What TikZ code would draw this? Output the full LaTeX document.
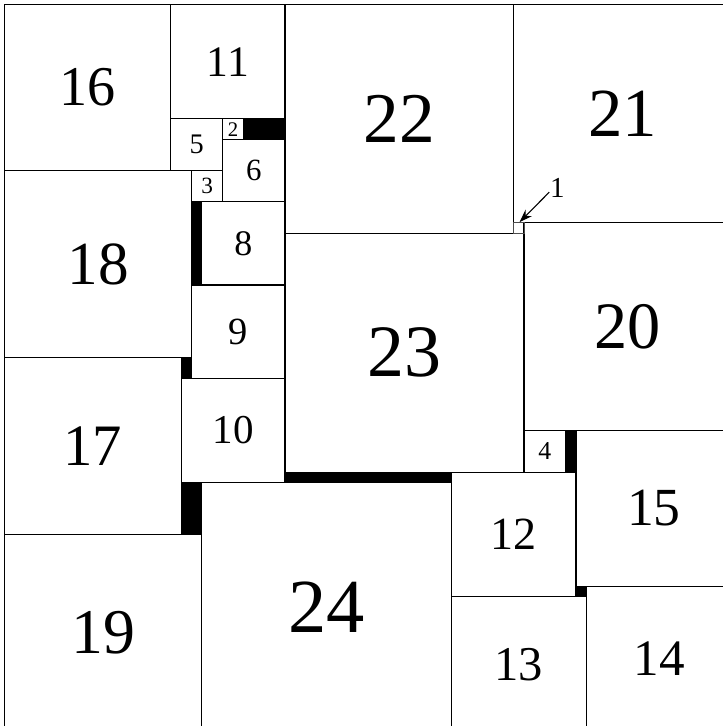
\documentclass[tikz,border=0pt]{standalone}
\usepackage{fontspec}
\setmainfont{Liberation Serif}
\usetikzlibrary{arrows.meta}
\begin{document}
\begin{tikzpicture}[x=10.39pt,y=10.39pt,
  sqline/.style={draw=black,line width=1.1pt},
  thinsq/.style={draw=black!70,line width=0.6pt},
  gapfill/.style={fill=black},
  lbl/.style={inner sep=0pt},
  pointer/.style={-{Stealth[length=13pt,width=9pt]},line width=1.1pt}]
\useasboundingbox (-0.433,0.56) rectangle (69.15,70.433);
\newcommand\gapbox[4]{\fill[gapfill] (#1,70-#2) rectangle ++(#3,-#4);}
\newcommand\sqbox[3]{%
  \draw[sqline] (#1,70-#2) rectangle ++(#3,-#3);
  \pgfmathsetmacro\sqfsz{15.7+2.53*#3}%
  \node[lbl,font=\fontsize{\sqfsz pt}{\sqfsz pt}\selectfont] (s#3) at (#1+#3/2,70-#2-#3/2) {#3};}
% gaps
\gapbox{23}{11}{4}{2}
\gapbox{18}{19}{1}{8}
\gapbox{17}{34}{1}{2}
\gapbox{17}{46}{2}{5}
\gapbox{27}{45}{16}{1}
\gapbox{54}{41}{1}{4}
\gapbox{55}{56}{1}{1}
% squares
\sqbox{0}{0}{16}
\sqbox{16}{0}{11}
\sqbox{27}{0}{22}
\sqbox{49}{0}{21}
\sqbox{16}{11}{5}
\sqbox{21}{11}{2}
\sqbox{21}{13}{6}
\sqbox{18}{16}{3}
\sqbox{19}{19}{8}
\sqbox{0}{16}{18}
\sqbox{18}{27}{9}
\sqbox{0}{34}{17}
\sqbox{17}{36}{10}
\sqbox{0}{51}{19}
\sqbox{19}{46}{24}
\sqbox{27}{22}{23}
\sqbox{50}{21}{20}
\sqbox{50}{41}{4}
\sqbox{55}{41}{15}
\sqbox{43}{45}{12}
\sqbox{43}{57}{13}
\sqbox{56}{56}{14}
% square 1 with outside label
\draw[thinsq] (49,70-21) rectangle ++(1,-1);
\coordinate (t1) at (49.57,70-20.95);
\node[inner sep=0.5pt,font=\fontsize{29pt}{29pt}\selectfont] (l1) at (53.2,70-17.7) {1};
\draw[pointer] (l1.205) -- (t1);
\end{tikzpicture}
\end{document}
